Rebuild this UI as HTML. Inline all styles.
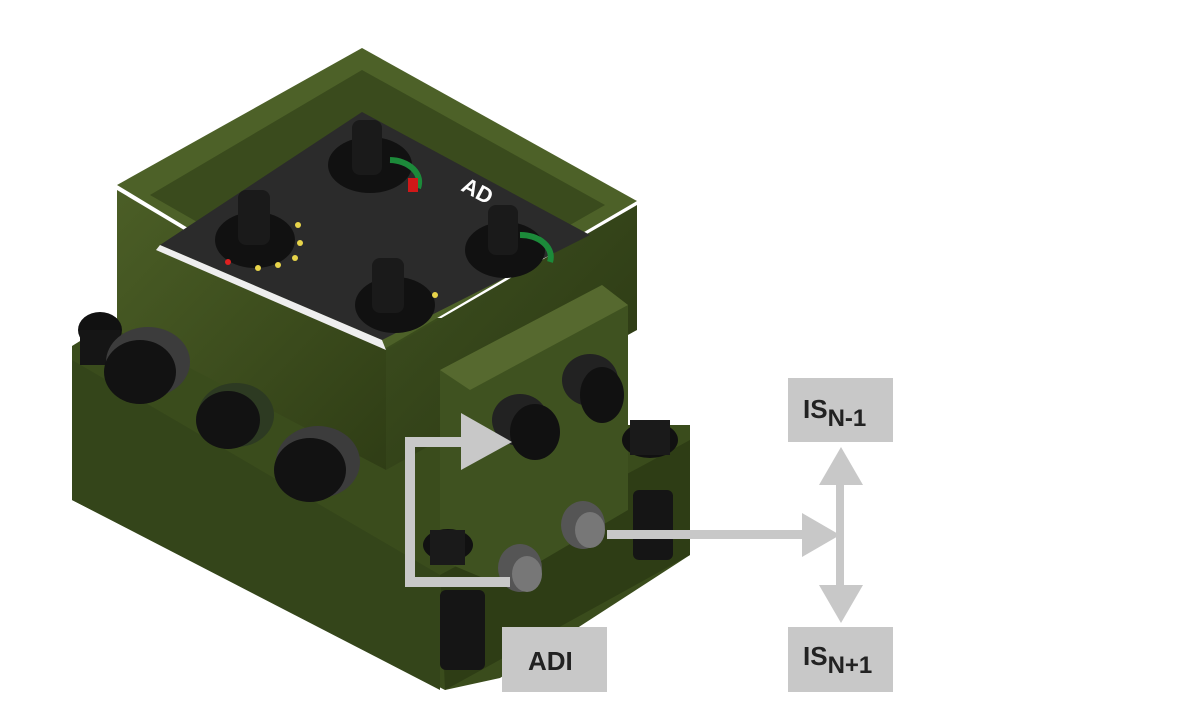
<!DOCTYPE html>
<html><head><meta charset="utf-8"><style>
html,body{margin:0;padding:0;background:#fff;}
body{width:1200px;height:720px;position:relative;overflow:hidden;font-family:"Liberation Sans",sans-serif;}
</style></head><body>
<svg width="1200" height="720" viewBox="0 0 1200 720" xmlns="http://www.w3.org/2000/svg">
<defs>
<linearGradient id="gl" x1="0" y1="0" x2="1" y2="1"><stop offset="0" stop-color="#4b5e26"/><stop offset="1" stop-color="#2f3d15"/></linearGradient>
<linearGradient id="gr" x1="0" y1="0" x2="1" y2="1"><stop offset="0" stop-color="#3e5020"/><stop offset="1" stop-color="#2a3712"/></linearGradient>
</defs>
<!-- base -->
<polygon points="72,346 117,318 628,318 628,425 690,425 690,555 500,678 445,690 72,500" fill="#3a4c1c"/>
<polygon points="72,360 440,575 440,690 72,500" fill="#34451a"/>
<polygon points="440,575 690,440 690,555 445,690" fill="#2e3d15"/>
<!-- upper box -->
<polygon points="117,190 386,350 386,470 117,330" fill="url(#gl)"/>
<polygon points="386,350 637,205 637,330 386,470" fill="url(#gr)"/>
<!-- top rim -->
<polygon points="117,185 362,48 637,201 386,348" fill="#4d6128"/>
<polygon points="150,195 362,70 605,205 386,330" fill="#3a4b1d"/>
<polygon points="160,245 362,112 590,235 382,340" fill="#2b2b2b"/>
<polygon points="160,245 382,340 386,350 156,250" fill="#eee"/>
<!-- knobs on top -->
<ellipse cx="370" cy="165" rx="42" ry="28" fill="#111"/><rect x="352" y="120" width="30" height="55" rx="8" fill="#1a1a1a"/>
<ellipse cx="255" cy="240" rx="40" ry="28" fill="#111"/><rect x="238" y="190" width="32" height="55" rx="8" fill="#1a1a1a"/>
<ellipse cx="505" cy="250" rx="40" ry="28" fill="#111"/><rect x="488" y="205" width="30" height="50" rx="8" fill="#1a1a1a"/>
<ellipse cx="395" cy="305" rx="40" ry="28" fill="#111"/><rect x="372" y="258" width="32" height="55" rx="8" fill="#1a1a1a"/>
<path d="M390 160 A30 22 0 0 1 418 188" stroke="#1c8a3a" stroke-width="6" fill="none"/>
<path d="M520 235 A30 22 0 0 1 550 262" stroke="#1c8a3a" stroke-width="6" fill="none"/>
<rect x="408" y="178" width="10" height="14" fill="#d01818"/>
<text x="460" y="190" fill="#fff" font-size="22" font-weight="bold" transform="rotate(28 460 190)">AD</text>
<g fill="#e8d44a"><circle cx="298" cy="225" r="3"/><circle cx="300" cy="243" r="3"/><circle cx="295" cy="258" r="3"/><circle cx="258" cy="268" r="3"/><circle cx="278" cy="265" r="3"/><circle cx="435" cy="295" r="3"/></g>
<circle cx="228" cy="262" r="3" fill="#e02020"/>
<!-- front left connectors -->
<ellipse cx="100" cy="330" rx="22" ry="18" fill="#111"/><rect x="80" y="330" width="40" height="35" fill="#151515"/>
<ellipse cx="148" cy="362" rx="42" ry="35" fill="#3c3c3c"/><ellipse cx="140" cy="372" rx="36" ry="32" fill="#121212"/>
<ellipse cx="236" cy="415" rx="38" ry="32" fill="#2d3a22"/><ellipse cx="228" cy="420" rx="32" ry="29" fill="#121212"/>
<ellipse cx="318" cy="462" rx="42" ry="36" fill="#3c3c3c"/><ellipse cx="310" cy="470" rx="36" ry="32" fill="#121212"/>
<!-- right module -->
<polygon points="440,370 602,285 628,305 628,510 500,585 440,560" fill="#3f5220"/>
<polygon points="440,370 602,285 628,305 470,390" fill="#56692f"/>
<ellipse cx="520" cy="420" rx="28" ry="26" fill="#222"/><ellipse cx="535" cy="432" rx="25" ry="28" fill="#111"/>
<ellipse cx="590" cy="380" rx="28" ry="26" fill="#222"/><ellipse cx="602" cy="395" rx="22" ry="28" fill="#111"/>
<ellipse cx="583" cy="525" rx="22" ry="24" fill="#555"/><ellipse cx="590" cy="530" rx="15" ry="18" fill="#777"/>
<ellipse cx="520" cy="568" rx="22" ry="24" fill="#555"/><ellipse cx="527" cy="574" rx="15" ry="18" fill="#777"/>
<ellipse cx="448" cy="545" rx="25" ry="16" fill="#111"/><rect x="430" y="530" width="35" height="35" fill="#1a1a1a"/>
<rect x="440" y="590" width="45" height="80" rx="6" fill="#151515"/>
<ellipse cx="650" cy="440" rx="28" ry="18" fill="#111"/><rect x="630" y="420" width="40" height="35" fill="#1a1a1a"/>
<rect x="633" y="490" width="40" height="70" rx="6" fill="#151515"/>
<!-- arrows -->
<g fill="#c8c8c8">
<rect x="405" y="437" width="10" height="150"/>
<rect x="405" y="437" width="58" height="10"/>
<polygon points="461,413 512,442 461,470"/>
<rect x="405" y="577" width="105" height="10"/>
<rect x="607" y="530" width="200" height="9"/>
<polygon points="802,513 840,535 802,557"/>
<rect x="836" y="483" width="8" height="104"/>
<polygon points="841,447 863,485 819,485"/>
<polygon points="841,623 863,585 819,585"/>
<rect x="788" y="378" width="105" height="64"/>
<rect x="788" y="627" width="105" height="65"/>
<rect x="502" y="627" width="105" height="65"/>
</g>
<g fill="#222" font-weight="bold" font-size="26">
<text x="528" y="670">ADI</text>
<text x="803" y="418">IS<tspan font-size="24" dy="8">N-1</tspan></text>
<text x="803" y="665">IS<tspan font-size="24" dy="8">N+1</tspan></text>
</g>
</svg>
</body></html>
